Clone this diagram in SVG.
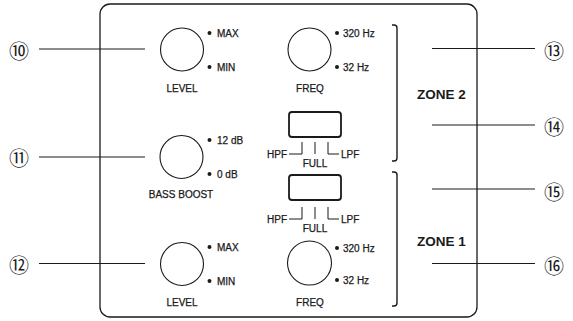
<svg xmlns="http://www.w3.org/2000/svg" width="573" height="321" viewBox="0 0 573 321">
<style>
.ln{stroke:#1a1a1a;stroke-width:1;fill:none}
.knob{stroke:#1a1a1a;stroke-width:1.1;fill:#fff}
.sw{stroke:#1a1a1a;stroke-width:1.8;fill:#fff}
.br{stroke:#1a1a1a;stroke-width:1.4;fill:none}
.t{font-family:"Liberation Sans",Arial,sans-serif;font-size:10px;fill:#1a1a1a;stroke:#1a1a1a;stroke-width:0.25}
.c{text-anchor:middle}
.z{font-family:"Liberation Sans",Arial,sans-serif;font-size:13.5px;font-weight:bold;fill:#1a1a1a}
.n{font-family:"Noto Sans CJK JP","DejaVu Sans",sans-serif;font-size:20px;fill:#1a1a1a;text-anchor:middle}
.dot{fill:#1a1a1a}
</style>
<rect x="0" y="0" width="573" height="321" fill="#fff"/>
<g id="panel">
<rect x="100" y="4" width="377" height="313" rx="10" ry="10" fill="none" stroke="#1a1a1a" stroke-width="1.3"/>
</g>
<g id="connectors">
<line class="ln" x1="39" y1="49" x2="145" y2="49"/>
<line class="ln" x1="39" y1="157" x2="145" y2="157"/>
<line class="ln" x1="39" y1="263.5" x2="145" y2="263.5"/>
<line class="ln" x1="432" y1="48.5" x2="535" y2="48.5"/>
<line class="ln" x1="432" y1="125" x2="535" y2="125"/>
<line class="ln" x1="432" y1="189" x2="535" y2="189"/>
<line class="ln" x1="432" y1="263.5" x2="535" y2="263.5"/>
</g>
<g id="callouts">
<text class="n" x="19" y="58.5">⑩</text>
<text class="n" x="19" y="165.5">⑪</text>
<text class="n" x="19" y="272.5">⑫</text>
<text class="n" x="554" y="58.5">⑬</text>
<text class="n" x="554" y="135">⑭</text>
<text class="n" x="554" y="200">⑮</text>
<text class="n" x="554" y="274">⑯</text>
</g>
<g id="level2">
<circle class="knob" cx="182" cy="49.5" r="21.5"/>
<circle class="dot" cx="209.5" cy="33" r="2"/>
<circle class="dot" cx="209.5" cy="67" r="2"/>
<text class="t" x="217" y="37">MAX</text>
<text class="t" x="217" y="71">MIN</text>
<text class="t c" x="182" y="92">LEVEL</text>
</g>
<g id="freq2">
<circle class="knob" cx="309.5" cy="49.5" r="21.5"/>
<circle class="dot" cx="337" cy="33" r="2"/>
<circle class="dot" cx="337" cy="67" r="2"/>
<text class="t" x="343" y="37">320 Hz</text>
<text class="t" x="343" y="71">32 Hz</text>
<text class="t c" x="310" y="92">FREQ</text>
</g>
<g id="bassboost">
<circle class="knob" cx="181.5" cy="157" r="21.5"/>
<circle class="dot" cx="209.5" cy="140" r="2"/>
<circle class="dot" cx="209.5" cy="174" r="2"/>
<text class="t" x="217" y="144">12 dB</text>
<text class="t" x="217" y="178">0 dB</text>
<text class="t c" x="181" y="198">BASS BOOST</text>
</g>
<g id="switch2">
<rect class="sw" x="289" y="112" width="52" height="25" rx="3"/>
<path class="ln" d="M302,142 V154 H289 M315,142 V154 M328,142 V154 H339"/>
<text class="t" x="287" y="158" text-anchor="end">HPF</text>
<text class="t" x="341" y="158">LPF</text>
<text class="t c" x="315" y="167">FULL</text>
</g>
<g id="switch1">
<rect class="sw" x="289" y="175" width="52" height="25" rx="3"/>
<path class="ln" d="M302,207 V219 H289 M315,207 V219 M328,207 V219 H339"/>
<text class="t" x="287" y="223" text-anchor="end">HPF</text>
<text class="t" x="341" y="223">LPF</text>
<text class="t c" x="315" y="232">FULL</text>
</g>
<g id="level1">
<circle class="knob" cx="182" cy="264" r="21.5"/>
<circle class="dot" cx="209.5" cy="247" r="2"/>
<circle class="dot" cx="209.5" cy="281" r="2"/>
<text class="t" x="217" y="251">MAX</text>
<text class="t" x="217" y="285">MIN</text>
<text class="t c" x="182" y="306">LEVEL</text>
</g>
<g id="freq1">
<circle class="knob" cx="309.5" cy="263" r="22"/>
<circle class="dot" cx="337" cy="248" r="2"/>
<circle class="dot" cx="337" cy="280" r="2"/>
<text class="t" x="343" y="252">320 Hz</text>
<text class="t" x="343" y="284">32 Hz</text>
<text class="t c" x="310" y="306">FREQ</text>
</g>
<g id="zone2">
<path class="br" d="M392,25 H394 Q397,25 397,28 V158 Q397,161 394,161 H392"/>
<text class="z" x="417" y="99">ZONE 2</text>
</g>
<g id="zone1">
<path class="br" d="M392,172 H394 Q397,172 397,175 V303 Q397,306 394,306 H392"/>
<text class="z" x="417" y="246">ZONE 1</text>
</g>
</svg>
